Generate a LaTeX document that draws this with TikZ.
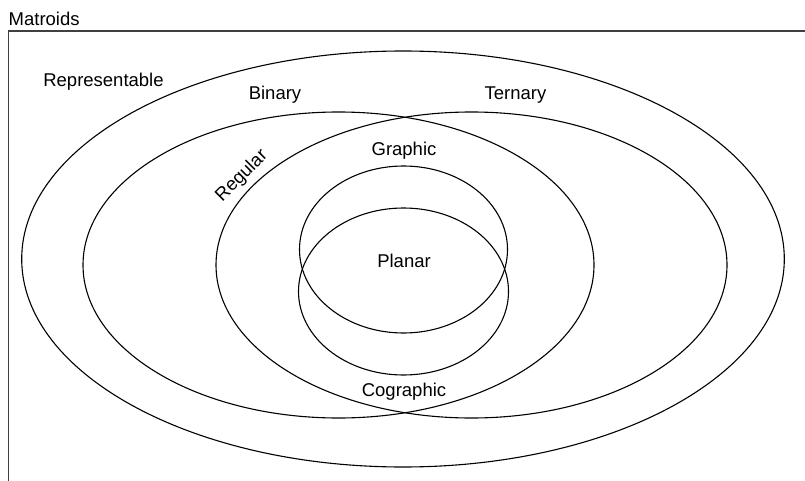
\documentclass[tikz,border=0pt]{standalone}
\usepackage{fontspec}
\setmainfont{Liberation Sans}
\begin{document}
\begin{tikzpicture}[x=1pt,y=-1pt,
  set/.style={draw=black,line width=1.1pt},
  lbl/.style={font=\fontsize{18.5}{20}\selectfont,inner sep=0pt,anchor=base},
  frame/.style={draw=black!75,line width=1.5pt}]
\useasboundingbox (0,0) rectangle (805,481);
% frame
\draw[frame] (8.5,481) -- (8.5,31) -- (805,31);
\node[lbl,anchor=base west] (matroids) at (8.5,25.5) {Matroids};
% sets
\draw[set] (403,259) ellipse [x radius=381.3, y radius=208];
\draw[set] (338.5,265) ellipse [x radius=255.5, y radius=153];
\draw[set] (471.5,265) ellipse [x radius=255.5, y radius=153];
\draw[set] (403.5,249.5) ellipse [x radius=104, y radius=83.5];
\draw[set] (403.5,291.5) ellipse [x radius=105, y radius=83.5];
% labels
\node[lbl] (repr) at (103.5,87) {Representable};
\node[lbl] (bin) at (275,100) {Binary};
\node[lbl] (ter) at (515.5,100) {Ternary};
\node[lbl] (gra) at (404,156) {Graphic};
\node[lbl] (pla) at (404,267.5) {Planar};
\node[lbl] (cog) at (404,396) {Cographic};
\node[lbl,anchor=center,rotate=45] (reg) at (242,176) {Regular};
\end{tikzpicture}
\end{document}
